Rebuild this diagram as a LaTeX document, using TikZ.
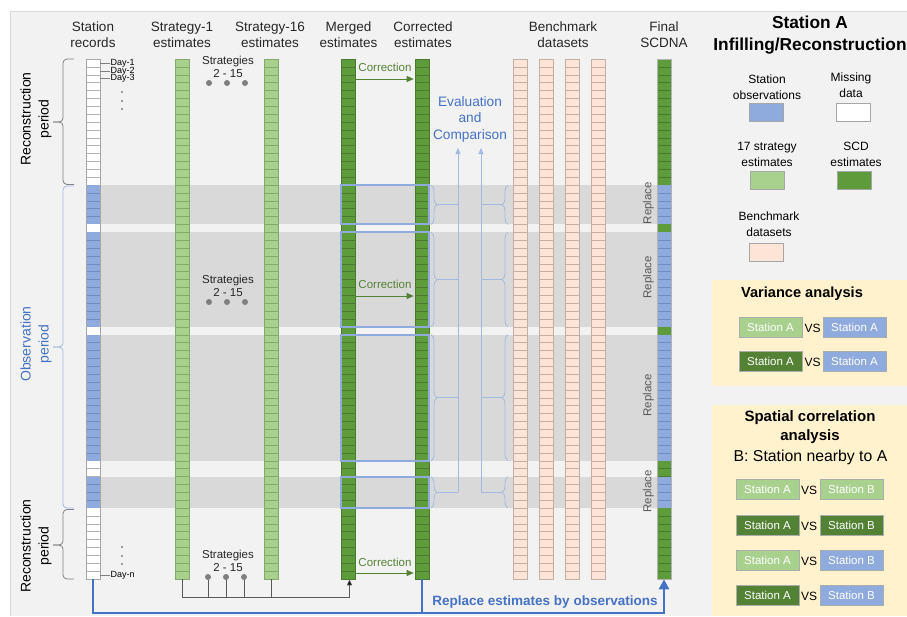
\documentclass[tikz,border=0pt]{standalone}
\usepackage{fontspec}
\setmainfont{Liberation Sans}
\usetikzlibrary{decorations.pathreplacing,arrows.meta,calc}
\definecolor{bgc}{HTML}{F2F2F2}
\definecolor{bandc}{HTML}{D9D9D9}
\definecolor{obsc}{HTML}{8FAADC}
\definecolor{obsl}{HTML}{6F8DC4}
\definecolor{lgc}{HTML}{A9D18E}
\definecolor{lgl}{HTML}{84AA6B}
\definecolor{dgc}{HTML}{5E9B3B}
\definecolor{dgl}{HTML}{4A7A2E}
\definecolor{pkc}{HTML}{FCE4D6}
\definecolor{pkl}{HTML}{C4AEA2}
\definecolor{boxdg}{HTML}{548235}
\definecolor{txtblue}{HTML}{4472C4}
\definecolor{lbl}{HTML}{A4B9E2}
\definecolor{yel}{HTML}{FFF2CC}
\definecolor{txtgray}{HTML}{595959}
\definecolor{dotc}{HTML}{7F7F7F}
\definecolor{corrc}{HTML}{548235}
\def\rh{7.8788}
\newcommand\cellrun[5]{%
  \fill[#4] (#1,{59+(#2-1)*\rh}) rectangle ({#1+14},{59+#3*\rh});
  \foreach \ri in {#2,...,#3}{\draw[#5,line width=0.5pt] (#1,{59+\ri*\rh}) -- ({#1+14},{59+\ri*\rh});}%
}
% left period brace: #1 colour, #2 top y, #3 bottom y, #4 tip y
\newcommand\periodbrace[4]{%
  \draw[#1, line width=0.8pt, rounded corners=4pt] (74,#2) -- (63,#2) -- (63,#4) -- (53,#4);
  \draw[#1, line width=0.8pt, rounded corners=4pt] (74,#3) -- (63,#3) -- (63,#4) -- (53,#4);
}
\tikzset{
  colnode/.style={draw=#1, line width=0.6pt, minimum width=14pt, minimum height=520pt, inner sep=0pt},
  hdr/.style={align=center, font=\fontsize{13.5}{16}\selectfont, text=black!85, inner sep=0pt},
  sidelbl/.style={rotate=90, align=center, font=\fontsize{14}{18}\selectfont, inner sep=0pt},
  strat/.style={align=center, font=\fontsize{11.5}{13}\selectfont, text=black!85, inner sep=0pt},
  dotn/.style={circle, fill=dotc, inner sep=0pt, minimum size=6pt},
  vdot/.style={circle, fill=gray, inner sep=0pt, minimum size=2.4pt},
  daylbl/.style={anchor=west, font=\fontsize{9}{10}\selectfont, inner sep=0.5pt},
  conn/.style={draw=txtgray, line width=0.7pt},
  corr/.style={draw=corrc, line width=0.9pt, -{Triangle[length=7pt,width=6pt]}, shorten >=1pt},
  corrlbl/.style={font=\fontsize{11.5}{13}\selectfont, text=corrc, inner sep=0pt},
  repl/.style={draw=txtblue, line width=2.5pt},
  lblue/.style={draw=lbl, line width=0.8pt},
  rbox/.style={draw=obsc, line width=2pt},
  repltxt/.style={rotate=90, font=\fontsize{11.5}{13}\selectfont, text=txtgray, inner sep=0pt},
  legtxt/.style={align=center, font=\fontsize{12}{16}\selectfont, inner sep=0pt},
  legbox/.style={draw=gray!70, line width=0.8pt, minimum width=34pt, minimum height=18pt, inner sep=0pt},
  sbox/.style={draw=gray!65, line width=1pt, minimum width=63pt, minimum height=20pt, inner sep=0pt, text=white, font=\fontsize{11.5}{13}\selectfont},
  vstxt/.style={font=\fontsize{12}{13}\selectfont, inner sep=0pt},
}
\begin{document}
\begin{tikzpicture}[x=1pt,y=-1pt]
\useasboundingbox (0,0) rectangle (907,616);
\fill[white] (0,0) rectangle (907,616);
\fill[bgc] (10,11) rectangle (907,616);
\draw[gray!30, line width=0.6pt] (10,616) -- (10,11) -- (907,11);

% observation bands
\foreach \bt/\bb in {185.06/224.45,232.33/326.88,334.76/460.82,476.58/508.09}
  {\fill[bandc] (100,\bt) rectangle (657,\bb);}

% analysis panels
\fill[yel] (712,280) rectangle (907,386);
\fill[yel] (712,405) rectangle (907,616);

% column cells
\foreach \ra/\rb/\rf/\rl in {1/16/white/gray!60,17/21/obsc/obsl,22/22/white/gray!60,23/34/obsc/obsl,35/35/white/gray!60,36/51/obsc/obsl,52/53/white/gray!60,54/57/obsc/obsl,58/66/white/gray!60}
  {\cellrun{86}{\ra}{\rb}{\rf}{\rl}}
\foreach \ra/\rb/\rf/\rl in {1/16/dgc/dgl,17/21/obsc/obsl,22/22/dgc/dgl,23/34/obsc/obsl,35/35/dgc/dgl,36/51/obsc/obsl,52/53/dgc/dgl,54/57/obsc/obsl,58/66/dgc/dgl}
  {\cellrun{657}{\ra}{\rb}{\rf}{\rl}}
\cellrun{175}{1}{66}{lgc}{lgl}
\cellrun{264}{1}{66}{lgc}{lgl}
\cellrun{341}{1}{66}{dgc}{dgl}
\cellrun{415}{1}{66}{dgc}{dgl}
\foreach \bx in {513,539,565,591}{\cellrun{\bx}{1}{66}{pkc}{pkl}}

% column nodes
\node[colnode=gray!70] (station) at (93,319) {};
\node[colnode=lgl] (s1) at (182,319) {};
\node[colnode=lgl] (s16) at (271,319) {};
\node[colnode=dgl] (merged) at (348,319) {};
\node[colnode=dgl] (corrected) at (422,319) {};
\node[colnode=pkl] (bm1) at (520,319) {};
\node[colnode=pkl] (bm2) at (546,319) {};
\node[colnode=pkl] (bm3) at (572,319) {};
\node[colnode=pkl] (bm4) at (598,319) {};
\node[colnode=gray!60] (final) at (664,319) {};

% headers
\node[hdr] (h1) at (93,34.5) {Station\\records};
\node[hdr] (h2) at (182,34.5) {Strategy-1\\estimates};
\node[hdr] (h3) at (270,34.5) {Strategy-16\\estimates};
\node[hdr] (h4) at (348.5,34.5) {Merged\\estimates};
\node[hdr] (h5) at (423,34.5) {Corrected\\estimates};
\node[hdr] (h6) at (563,34.5) {Benchmark\\datasets};
\node[hdr] (h7) at (664,34.5) {Final\\SCDNA};

% blue boxes around merged/corrected and braces
\foreach \bt/\bb in {185.06/224.45,232.33/326.88,334.76/460.82,476.58/508.09}{
  \draw[rbox] (341,\bt) rectangle (429,\bb);
  \draw[lblue, decorate, decoration={brace,amplitude=6pt}] (431,\bt) -- (431,\bb);
  \draw[lblue, decorate, decoration={brace,amplitude=6pt}] (508,\bb) -- (508,\bt);
  \draw[lblue] (437,{(\bt+\bb)/2}) -- (458,{(\bt+\bb)/2});
  \draw[lblue] (481,{(\bt+\bb)/2}) -- (502,{(\bt+\bb)/2});
}
\coordinate (ev1) at (458,492.3);
\coordinate (ev2) at (481,492.3);
\coordinate (evt) at (0,148);
\draw[lblue, -{Triangle[length=6pt,width=5pt]}] (ev1) -- (ev1 |- evt);
\draw[lblue, -{Triangle[length=6pt,width=5pt]}] (ev2) -- (ev2 |- evt);
\node[align=center, font=\fontsize{13.7}{16.5}\selectfont, text=txtblue, inner sep=0pt] (evalt) at (470,119) {Evaluation\\and\\Comparison};

% Replace labels
\node[repltxt] (rp1) at (648.5,203) {Replace};
\node[repltxt] (rp2) at (648.5,277.5) {Replace};
\node[repltxt] (rp3) at (648.5,395.5) {Replace};
\node[repltxt] (rp4) at (648.5,491.5) {Replace};

% period braces and labels
\periodbrace{gray}{59}{184.5}{122}
\periodbrace{lbl}{186}{508}{347}
\periodbrace{gray}{509.5}{579}{545}
\node[sidelbl] (rec1) at (36,119) {Reconstruction\\period};
\node[sidelbl, text=txtblue] (obsp) at (36,344) {Observation\\period};
\node[sidelbl] (rec2) at (36,546) {Reconstruction\\period};

% day labels
\node[daylbl] (day1) at (110,62.9) {Day-1};
\node[daylbl] (day2) at (110,70.8) {Day-2};
\node[daylbl] (day3) at (110,78.7) {Day-3};
\node[daylbl] (dayn) at (110,575.1) {Day-n};
\foreach \dn in {day1,day2,day3,dayn}{\draw[gray, line width=0.5pt] (station.east |- \dn) -- (\dn.west);}
\node[vdot] (vd1) at (122,92) {};
\node[vdot] (vd2) at (122,101) {};
\node[vdot] (vd3) at (122,109) {};
\node[vdot] (vd4) at (122,547) {};
\node[vdot] (vd5) at (122,556) {};
\node[vdot] (vd6) at (122,564) {};

% strategies 2-15
\node[strat] (st1) at (228,67) {Strategies\\2 - 15};
\node[dotn] (da1) at (209,83) {};
\node[dotn] (da2) at (227,83) {};
\node[dotn] (da3) at (245,83) {};
\node[strat] (st2) at (228,286) {Strategies\\2 - 15};
\node[dotn] (dm1) at (209,302) {};
\node[dotn] (dm2) at (227,302) {};
\node[dotn] (dm3) at (245,302) {};
\node[strat] (st3) at (228,560.5) {Strategies\\2 - 15};
\node[dotn] (db1) at (208,577) {};
\node[dotn] (db2) at (226,577) {};
\node[dotn] (db3) at (244,577) {};

% gray merging connectors
\coordinate (gbus) at (0,597);
\coordinate (mbus) at ([xshift=1.5pt]merged.south |- gbus);
\draw[conn] (s1.south) -- (s1.south |- gbus) -- (mbus);
\draw[conn, -{Triangle[length=6pt,width=5pt,fill=black]}] (mbus) -- ([xshift=1.5pt]merged.south);
\foreach \nd in {db1,db2,db3}{\draw[conn] (\nd) -- (\nd |- gbus);}
\draw[conn] (s16.south) -- (s16.south |- gbus);

% correction arrows
\coordinate (c1) at (0,79);
\coordinate (c2) at (0,296);
\coordinate (c3) at (0,573);
\draw[corr] (merged.east |- c1) -- (corrected.west |- c1);
\draw[corr] (merged.east |- c2) -- (corrected.west |- c2);
\draw[corr] (merged.east |- c3) -- (corrected.west |- c3);
\node[corrlbl] (cl1) at (385,67.5) {Correction};
\node[corrlbl] (cl2) at (385,284.5) {Correction};
\node[corrlbl] (cl3) at (385,562.5) {Correction};

% replace estimates by observations
\coordinate (bbus) at (0,613);
\draw[repl, -{Triangle[length=10pt,width=10pt]}] (station.south) -- (station.south |- bbus) -| (final.south);
\draw[repl] (corrected.south) -- (corrected.south |- bbus);
\node[font=\bfseries\fontsize{13.5}{15}\selectfont, text=txtblue, inner sep=0pt] (repll) at (545,602) {Replace estimates by observations};

% legend
\node[font=\bfseries\fontsize{17.3}{22}\selectfont, align=center, inner sep=0pt] (ltitle) at (810,35.5) {Station A\\Infilling/Reconstruction};
\node[legtxt] (lt1) at (767,87) {Station\\observations};
\node[legbox, fill=obsc] (lb1) at (766,112) {};
\node[legtxt] (lt2) at (851,85.5) {Missing\\data};
\node[legbox, fill=white] (lb2) at (853,112) {};
\node[legtxt] (lt3) at (767,154.5) {17 strategy\\estimates};
\node[legbox, fill=lgc] (lb3) at (767,180.5) {};
\node[legtxt] (lt4) at (856,154.5) {SCD\\estimates};
\node[legbox, fill=dgc] (lb4) at (854,180.5) {};
\node[legtxt] (lt5) at (769,224) {Benchmark\\datasets};
\node[legbox, fill=pkc] (lb5) at (766,252) {};

% variance analysis
\node[font=\bfseries\fontsize{14.6}{17}\selectfont, inner sep=0pt] (vtitle) at (802,294) {Variance analysis};
\node[sbox, fill=lgc] (va1) at (770.5,327) {Station A};
\node[vstxt] (vs1) at (812.5,328) {VS};
\node[sbox, fill=obsc] (vb1) at (854.5,327) {Station A};
\node[sbox, fill=boxdg] (va2) at (770.5,361) {Station A};
\node[vstxt] (vs2) at (812.5,362) {VS};
\node[sbox, fill=obsc] (vb2) at (854.5,361) {Station A};

% spatial correlation analysis
\node[font=\bfseries\fontsize{15}{19}\selectfont, align=center, inner sep=0pt] (stitle) at (810,427.5) {Spatial correlation\\analysis};
\node[font=\fontsize{15.8}{18}\selectfont, inner sep=0pt] (ssub) at (810.5,457) {B: Station nearby to A};
\node[sbox, fill=lgc] (sa1) at (767.5,489) {Station A};
\node[vstxt] (svs1) at (809,490) {VS};
\node[sbox, fill=lgc] (sb1) at (851.5,489) {Station B};
\node[sbox, fill=boxdg] (sa2) at (767.5,525) {Station A};
\node[vstxt] (svs2) at (809,526) {VS};
\node[sbox, fill=boxdg] (sb2) at (851.5,525) {Station B};
\node[sbox, fill=lgc] (sa3) at (767.5,560) {Station A};
\node[vstxt] (svs3) at (809,561) {VS};
\node[sbox, fill=obsc] (sb3) at (851.5,560) {Station B};
\node[sbox, fill=boxdg] (sa4) at (767.5,595) {Station A};
\node[vstxt] (svs4) at (809,596) {VS};
\node[sbox, fill=obsc] (sb4) at (851.5,595) {Station B};
\end{tikzpicture}
\end{document}
